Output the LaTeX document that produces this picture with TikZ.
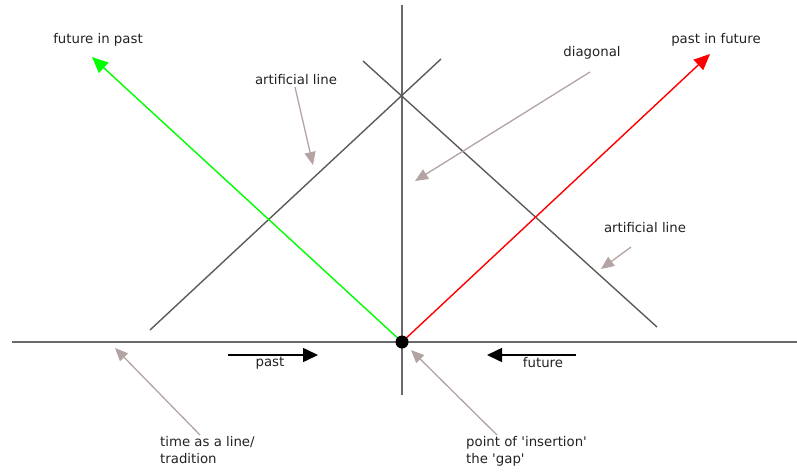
\documentclass[tikz,border=0pt]{standalone}
\usepackage{fontspec}
\setmainfont{DejaVu Sans}
\usetikzlibrary{arrows.meta}
\definecolor{axisgray}{HTML}{6A6A6A}
\definecolor{artgray}{HTML}{605A56}
\definecolor{notecol}{HTML}{B3A3A3}
\definecolor{txt}{HTML}{222222}
\newcommand{\sq}{\textquotesingle}
\tikzset{
  lbl/.style={text=txt, font=\fontsize{13.3}{17}\selectfont, inner sep=0pt, align=left},
  axisline/.style={draw=axisgray, line width=1.7pt},
  artline/.style={draw=artgray, line width=1.4pt},
  notearrow/.style={draw=notecol, line width=1.3pt, -{Triangle[length=13pt,width=11pt]}},
  timearrow/.style={draw=black, line width=1.6pt, -{Triangle[length=15pt,width=14pt]}},
  vecarrow/.style={line width=1.4pt, -{Triangle[length=16pt,width=14pt]}}
}
\begin{document}
\begin{tikzpicture}[x=1pt,y=-1pt]
\useasboundingbox (0,0) rectangle (797,471);
% axes
\coordinate (hl) at (12,342);
\coordinate (hr) at (797,342);
\coordinate (vt) at (402,5);
\coordinate (vb) at (402,395);
\coordinate (o) at (402,342);
\draw[axisline] (hl) -- (hr);
\draw[axisline] (vt) -- (vb);
% artificial lines
\coordinate (a1s) at (150,330);
\coordinate (a1e) at (441,59);
\coordinate (a2s) at (363,61);
\coordinate (a2e) at (657,327);
\draw[artline] (a1s) -- (a1e);
\draw[artline] (a2s) -- (a2e);
% green and red vectors
\coordinate (gtip) at (92,57);
\coordinate (rtip) at (710,54);
\draw[vecarrow, draw=green, fill=green] (o) -- (gtip);
\draw[vecarrow, draw=red, fill=red] (o) -- (rtip);
% centre dot
\fill[black] (o) circle (6.5pt);
% labels
\node[lbl] (fip) at (98,40) {future in past};
\node[lbl] (pif) at (716,40) {past in future};
\node[lbl] (diag) at (592,53) {diagonal};
\node[lbl] (art1) at (296,80) {artificial line};
\node[lbl] (art2) at (645,228) {artificial line};
\node[lbl, anchor=north west] (time) at (160,436) {time as a line/\\tradition};
\node[lbl, anchor=north west] (gap) at (466,436) {point of \sq insertion\sq\\the \sq gap\sq};
\node[lbl] (pastl) at (270,363) {past};
\node[lbl] (futl) at (543,363) {future};
% past / future arrows
\coordinate (pas) at (228,355);
\coordinate (pae) at (318,355);
\coordinate (fus) at (576,355);
\coordinate (fue) at (487,355);
\draw[timearrow] (pas) -- (pae);
\draw[timearrow] (fus) -- (fue);
% annotation arrows
\coordinate (n1) at (313,165);
\coordinate (n2) at (415,181);
\coordinate (n3) at (601,269);
\coordinate (n4) at (115,348);
\coordinate (n5) at (411,350);
\draw[notearrow] (295,87) -- (n1);
\draw[notearrow] (590,72) -- (n2);
\draw[notearrow] (631,247) -- (n3);
\draw[notearrow] (200,435) -- (n4);
\draw[notearrow] (497,435) -- (n5);
\end{tikzpicture}
\end{document}
